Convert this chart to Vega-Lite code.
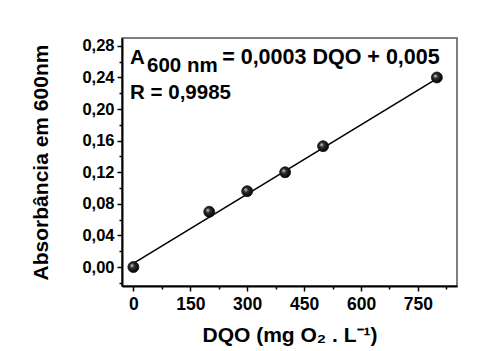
{
  "$schema": "https://vega.github.io/schema/vega-lite/v6.json",
  "width": 335,
  "height": 248,
  "autosize": "none",
  "padding": {"left": 122, "top": 38, "right": 30, "bottom": 65},
  "background": "white",
  "config": {
    "locale": {"number": {"decimal": ",", "thousands": ".", "grouping": [3], "currency": ["", ""]}},
    "view": {"stroke": "#555", "strokeWidth": 1.5},
    "axis": {
      "grid": false,
      "domainColor": "black",
      "domainWidth": 2,
      "tickColor": "black",
      "tickWidth": 1.5,
      "labelFont": "Liberation Sans",
      "labelFontWeight": "bold",
      "labelColor": "black",
      "titleFont": "Liberation Sans",
      "titleFontWeight": "bold",
      "titleColor": "black"
    }
  },
  "datasets": {
    "pts": [
      {"dqo": 0, "absv": 0.0},
      {"dqo": 200, "absv": 0.070},
      {"dqo": 300, "absv": 0.096},
      {"dqo": 400, "absv": 0.120},
      {"dqo": 500, "absv": 0.153},
      {"dqo": 800, "absv": 0.240}
    ],
    "fit": [
      {"dqo": 0, "absv": 0.0047},
      {"dqo": 800, "absv": 0.2385}
    ],
    "notes": [
      {"dqo": -8.7, "absv": 0.2567, "t": "A", "fs": 20.5},
      {"dqo": 36, "absv": 0.2469, "t": "600 nm", "fs": 20.5},
      {"dqo": 234, "absv": 0.2567, "t": "= 0,0003 DQO + 0,005", "fs": 21.5},
      {"dqo": -8.7, "absv": 0.2128, "t": "R = 0,9985", "fs": 20.5}
    ]
  },
  "layer": [
    {
      "data": {"name": "fit"},
      "mark": {"type": "line", "color": "black", "strokeWidth": 1.6},
      "encoding": {
        "x": {
          "field": "dqo", "type": "quantitative",
          "scale": {"domain": [-30, 853], "nice": false, "zero": false},
          "axis": {
            "title": "DQO (mg O₂ . L⁻¹)",
            "titleFontSize": 21,
            "titlePadding": 12,
            "labelFontSize": 17.5,
            "labelPadding": 4,
            "tickCount": 100,
            "values": [0, 75, 150, 225, 300, 375, 450, 525, 600, 675, 750, 825],
            "tickSize": {"expr": "datum.value % 150 === 0 ? 5 : 3"},
            "labelExpr": "datum.value % 150 === 0 ? datum.label : ''",
            "format": "d",
            "labelFlush": false,
            "labelOverlap": false
          }
        },
        "y": {
          "field": "absv", "type": "quantitative",
          "scale": {"domain": [-0.024, 0.29], "nice": false, "zero": false},
          "axis": {
            "title": "Absorbância em 600nm",
            "titleFontSize": 21,
            "titlePadding": 30,
            "labelFontSize": 16.5,
            "labelPadding": 3,
            "tickCount": 100,
            "values": [-0.02, 0, 0.02, 0.04, 0.06, 0.08, 0.1, 0.12, 0.14, 0.16, 0.18, 0.2, 0.22, 0.24, 0.26, 0.28],
            "tickSize": {"expr": "round(datum.value*100) % 4 == 0 ? 5 : 3"},
            "labelExpr": "round(datum.value*100) % 4 == 0 ? datum.label : ''",
            "format": ".2f",
            "labelFlush": false,
            "labelOverlap": false
          }
        }
      }
    },
    {
      "data": {"name": "pts"},
      "mark": {
        "type": "circle",
        "size": 120,
        "opacity": 1,
        "stroke": "#111",
        "strokeWidth": 0.8,
        "fill": {
          "gradient": "radial",
          "x1": 0.35, "y1": 0.35, "r1": 0,
          "x2": 0.45, "y2": 0.45, "r2": 0.55,
          "stops": [
            {"offset": 0, "color": "#f0f0f0"},
            {"offset": 0.35, "color": "#333333"},
            {"offset": 1, "color": "#000000"}
          ]
        }
      },
      "encoding": {
        "x": {"field": "dqo", "type": "quantitative"},
        "y": {"field": "absv", "type": "quantitative"}
      }
    },
    {
      "data": {"name": "notes"},
      "mark": {"type": "text", "align": "left", "baseline": "alphabetic", "font": "Liberation Sans", "fontWeight": "bold", "color": "black"},
      "encoding": {
        "x": {"field": "dqo", "type": "quantitative"},
        "y": {"field": "absv", "type": "quantitative"},
        "text": {"field": "t"},
        "size": {"field": "fs", "type": "quantitative", "scale": null}
      }
    }
  ]
}
